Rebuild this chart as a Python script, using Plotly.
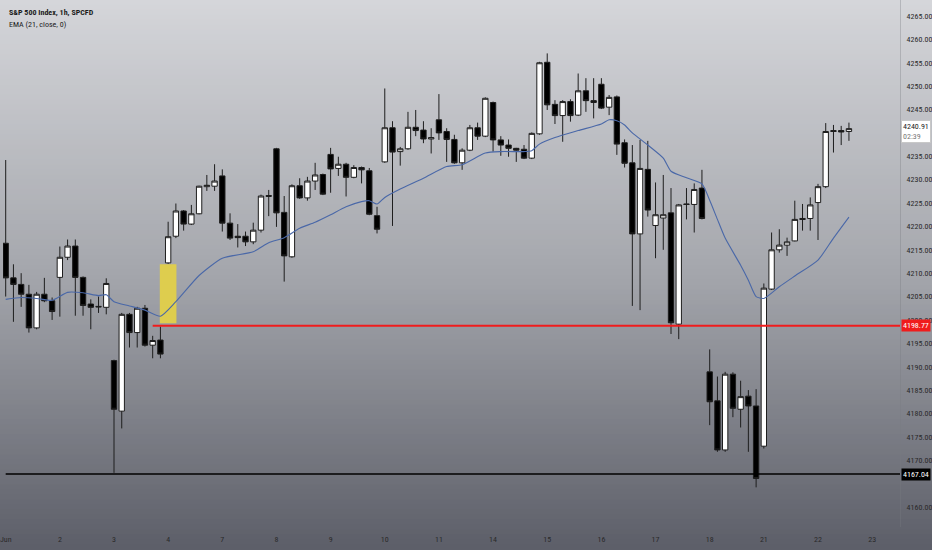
import plotly.graph_objects as go

# ---------------- data ----------------
day_labels = ["Jun", "2", "3", "4", "7", "8", "9", "10", "11", "14", "15", "16", "17", "18", "21", "22", "23"]
bars_per_day = 7

opens = [4216.4, 4209.0, 4207.6, 4205.5, 4198.3, 4205.5, 4204.1,
         4209.1, 4213.4, 4215.8, 4209.1, 4203.4, 4202.9, 4202.7,
         4191.3, 4180.5, 4201.2, 4197.3, 4202.5, 4194.6, 4195.7,
         4212.2, 4217.9, 4223.3, 4220.5, 4222.7, 4228.5, 4228.6,
         4230.8, 4220.7, 4217.9, 4217.9, 4216.7, 4219.2, 4226.4,
         4236.6, 4223.0, 4213.5, 4228.7, 4226.1, 4229.7, 4231.1,
         4235.4, 4232.4, 4233.3, 4230.5, 4232.6, 4231.9, 4222.3,
         4233.8, 4241.1, 4236.0, 4236.6, 4241.2, 4240.6, 4238.7,
         4242.8, 4240.3, 4238.6, 4233.6, 4236.3, 4241.1, 4239.3,
         4246.5, 4238.5, 4237.4, 4236.7, 4236.5, 4234.6, 4239.8,
         4255.1, 4246.1, 4243.7, 4246.7, 4243.8, 4249.0, 4246.9,
         4250.4, 4245.5, 4247.7, 4237.9, 4233.6, 4218.4, 4232.2,
         4220.2, 4221.8, 4222.9, 4199.1, 4224.8, 4224.7, 4228.2,
         4188.9, 4182.7, 4172.2, 4188.4, 4180.9, 4183.7, 4181.6,
         4173.0, 4206.6, 4215.0, 4216.0, 4216.9, 4221.7, 4221.7,
         4225.1, 4228.5, 4240.5, 4240.5, 4240.3]
highs = [4234.2, 4211.9, 4210.0, 4207.5, 4206.0, 4209.0, 4204.8,
         4215.7, 4217.2, 4217.2, 4209.3, 4204.4, 4205.0, 4208.9,
         4191.5, 4201.5, 4201.5, 4202.8, 4203.2, 4196.6, 4198.6,
         4221.0, 4224.9, 4223.5, 4224.6, 4228.7, 4231.0, 4233.3,
         4232.2, 4222.8, 4220.5, 4218.9, 4220.8, 4226.8, 4227.8,
         4236.8, 4226.5, 4229.0, 4230.3, 4230.6, 4233.6, 4231.3,
         4236.8, 4234.9, 4233.6, 4233.1, 4232.8, 4232.5, 4224.2,
         4249.5, 4242.5, 4237.0, 4244.5, 4244.9, 4242.5, 4241.0,
         4248.3, 4241.0, 4239.6, 4236.7, 4241.7, 4242.2, 4247.6,
         4246.7, 4239.3, 4238.6, 4236.8, 4237.4, 4240.1, 4255.2,
         4257.0, 4247.0, 4247.0, 4247.2, 4252.7, 4251.7, 4251.7,
         4251.7, 4248.1, 4248.0, 4238.6, 4237.4, 4238.5, 4238.3,
         4229.4, 4231.0, 4228.2, 4224.8, 4228.2, 4229.2, 4232.1,
         4193.7, 4187.9, 4188.9, 4188.8, 4187.0, 4185.0, 4185.2,
         4207.8, 4218.7, 4219.4, 4217.6, 4225.5, 4224.8, 4226.2,
         4229.1, 4242.1, 4241.7, 4241.5, 4242.2]
lows = [4205.0, 4199.6, 4202.8, 4197.3, 4198.0, 4203.8, 4200.0,
        4200.7, 4212.8, 4200.9, 4200.9, 4198.0, 4201.5, 4201.2,
        4167.3, 4176.8, 4194.1, 4194.1, 4194.3, 4191.8, 4191.8,
        4212.0, 4217.5, 4219.1, 4220.3, 4222.6, 4227.6, 4227.6,
        4218.9, 4217.1, 4215.5, 4215.8, 4216.2, 4218.7, 4222.2,
        4219.9, 4208.2, 4213.3, 4225.9, 4225.5, 4227.8, 4226.7,
        4227.2, 4230.8, 4226.4, 4230.3, 4229.2, 4222.4, 4218.5,
        4233.6, 4220.1, 4233.0, 4236.4, 4239.3, 4237.8, 4235.6,
        4238.5, 4233.8, 4233.4, 4232.1, 4236.1, 4238.5, 4239.1,
        4236.0, 4235.1, 4234.9, 4233.8, 4234.4, 4234.4, 4239.6,
        4244.9, 4241.9, 4238.1, 4242.4, 4243.6, 4244.5, 4243.1,
        4245.1, 4243.8, 4235.3, 4232.6, 4203.0, 4202.1, 4222.1,
        4213.2, 4215.0, 4197.0, 4195.9, 4221.5, 4218.7, 4221.5,
        4177.5, 4171.8, 4171.8, 4179.2, 4177.0, 4171.8, 4164.2,
        4172.5, 4206.4, 4214.4, 4213.7, 4216.8, 4219.1, 4219.1,
        4217.1, 4228.2, 4235.8, 4237.4, 4238.3]
closes = [4209.0, 4207.6, 4205.5, 4198.3, 4205.5, 4204.1, 4201.8,
          4213.4, 4215.8, 4209.1, 4203.1, 4202.7, 4202.8, 4207.8,
          4180.9, 4201.2, 4197.3, 4202.5, 4194.6, 4195.6, 4192.7,
          4217.8, 4223.3, 4220.5, 4222.7, 4228.6, 4228.8, 4229.7,
          4220.7, 4217.5, 4217.6, 4216.7, 4219.2, 4226.5, 4226.6,
          4222.9, 4213.7, 4228.7, 4226.1, 4229.7, 4231.0, 4226.9,
          4232.3, 4233.3, 4230.5, 4232.6, 4232.1, 4222.6, 4219.4,
          4241.1, 4235.9, 4236.6, 4241.2, 4240.5, 4238.7, 4239.0,
          4240.0, 4238.6, 4233.6, 4236.3, 4241.1, 4239.3, 4247.4,
          4238.5, 4237.4, 4236.7, 4236.3, 4234.6, 4239.9, 4255.0,
          4246.0, 4243.7, 4246.7, 4243.7, 4249.0, 4246.9, 4246.5,
          4245.3, 4247.6, 4237.6, 4233.5, 4218.4, 4232.4, 4223.5,
          4222.5, 4222.5, 4199.4, 4224.6, 4224.7, 4227.9, 4221.7,
          4182.5, 4172.2, 4188.4, 4181.1, 4183.6, 4181.6, 4166.1,
          4206.8, 4215.0, 4216.0, 4216.7, 4221.5, 4221.5, 4224.6,
          4228.5, 4240.3, 4240.3, 4240.2, 4240.91]

# EMA(21) values at selected bars
ema_bars = [0, 2, 4, 6, 8, 10, 12, 13, 14, 16, 18, 20, 22, 25, 28, 32, 34, 36, 38, 40,
            42, 44, 46, 47, 48, 49, 51, 54, 57, 59, 62, 64, 67, 68, 69, 71, 74, 77, 78,
            79, 80, 81, 83, 85, 86, 88, 90, 91, 92, 93, 95, 96, 97, 98, 100, 102, 105,
            107, 109]
ema_vals = [4204.4, 4204.8, 4204.6, 4204.2, 4205.9, 4205.8, 4205.2, 4205.4, 4203.9,
            4203.0, 4202.1, 4200.8, 4203.9, 4209.5, 4213.2, 4214.6, 4216.5, 4217.6,
            4219.6, 4220.9, 4222.5, 4224.2, 4225.3, 4225.5, 4224.8, 4226.2, 4228.0,
            4230.3, 4232.8, 4233.2, 4235.7, 4236.0, 4236.0, 4236.2, 4237.6, 4239.0,
            4240.5, 4241.9, 4242.8, 4242.6, 4241.7, 4240.0, 4237.4, 4234.6, 4231.8,
            4230.4, 4229.1, 4225.6, 4221.5, 4217.5, 4211.7, 4208.5, 4205.0, 4204.6,
            4207.1, 4209.4, 4212.8, 4217.5, 4222.0]

price_ticks = [4160, 4170, 4175, 4180, 4185, 4190, 4195, 4200, 4205, 4210, 4215,
               4220, 4225, 4230, 4235, 4245, 4250, 4255, 4260, 4265]

red_level = 4198.77
black_level = 4167.04
last_price = 4240.91
countdown = "02:39"
red_start_bar = 19
black_start_bar = 0
gap_box_bars = [19.92, 22.07]
gap_box_prices = [4199.3, 4211.9]

title_text = "S&P 500 Index, 1h, SPCFD"
ema_text = "EMA (21, close, 0)"

# ---------------- figure ----------------
W, H = 932, 550
PLOT_R = 32
PLOT_B = 23
plot_h = H - PLOT_B

bars = list(range(len(opens)))
FONT = "Liberation Sans Narrow, Roboto Condensed, DejaVu Sans Condensed, Arial Narrow, sans-serif"

fig = go.Figure()

fig.add_trace(go.Candlestick(
    x=bars, open=opens, high=highs, low=lows, close=closes,
    increasing=dict(fillcolor="#ffffff", line=dict(color="#1e1e1e", width=1)),
    decreasing=dict(fillcolor="#000000", line=dict(color="#1e1e1e", width=1)),
    whiskerwidth=0, showlegend=False, hoverinfo="skip",
))

fig.add_trace(go.Scatter(
    x=ema_bars, y=ema_vals, mode="lines",
    line=dict(color="#4a68a8", width=1.1, shape="spline", smoothing=0.6),
    showlegend=False, hoverinfo="skip",
))

# background gradient (vertical), drawn as thin paper bands
stops = [(0, (213, 214, 218)), (275, (164, 166, 172)), (550, (92, 94, 104))]


def col_at(p):
    for (p0, c0), (p1, c1) in zip(stops[:-1], stops[1:]):
        if p0 <= p <= p1:
            t = (p - p0) / (p1 - p0)
            return "rgb(%d,%d,%d)" % tuple(round(a + (b - a) * t) for a, b in zip(c0, c1))
    return "rgb(%d,%d,%d)" % stops[-1][1]


shapes = []
step = 5
for p in range(0, H, step):
    y_top = 1 - p / plot_h
    y_bot = 1 - (p + step) / plot_h
    shapes.append(dict(type="rect", xref="paper", yref="paper",
                       x0=-0.01, x1=W / (W - PLOT_R) + 0.01, y0=y_bot - 0.001, y1=y_top + 0.001,
                       fillcolor=col_at(p + step / 2), line=dict(width=0), layer="below"))

x_min = -0.348
x_max = 115.6
y_min = 4155.72
y_max = 4268.42

# yellow gap box
shapes.append(dict(type="rect", xref="x", yref="y",
                   x0=gap_box_bars[0], x1=gap_box_bars[1], y0=gap_box_prices[0], y1=gap_box_prices[1],
                   fillcolor="rgb(222,205,78)", line=dict(width=0), layer="below"))
# horizontal levels
shapes.append(dict(type="line", xref="x", yref="y", x0=red_start_bar, x1=x_max,
                   y0=red_level, y1=red_level, line=dict(color="#f01c1c", width=2)))
shapes.append(dict(type="line", xref="x", yref="y", x0=black_start_bar, x1=x_max,
                   y0=black_level, y1=black_level, line=dict(color="#000000", width=1.6)))

annotations = [
    dict(xref="paper", yref="paper", x=0, y=1, xanchor="left", yanchor="middle",
         xshift=4, yshift=-12, text="<b>" + title_text + "</b>", showarrow=False,
         font=dict(family=FONT, size=8, color="#1c1c1c")),
    dict(xref="paper", yref="paper", x=0, y=1, xanchor="left", yanchor="middle",
         xshift=4, yshift=-24, text=ema_text, showarrow=False,
         font=dict(family=FONT, size=8, color="#1c1c1c")),
    dict(xref="paper", yref="y", x=1, y=red_level, xanchor="left", yanchor="middle",
         xshift=1, text="%.2f" % red_level, showarrow=False, bgcolor="#f01c1c",
         borderpad=1, font=dict(family=FONT, size=8, color="#ffffff")),
    dict(xref="paper", yref="y", x=1, y=black_level, xanchor="left", yanchor="middle",
         xshift=1, text="%.2f" % black_level, showarrow=False, bgcolor="#000000",
         borderpad=1, font=dict(family=FONT, size=8, color="#ffffff")),
    dict(xref="paper", yref="y", x=1, y=last_price, xanchor="left", yanchor="middle",
         xshift=1, yshift=-3,
         text="%.2f<br><span style='color:#777'>%s</span>" % (last_price, countdown),
         showarrow=False, bgcolor="#ffffff", bordercolor="#c8c8c8", borderwidth=1,
         borderpad=1, align="left", font=dict(family=FONT, size=8, color="#1c1c1c")),
]

tickvals_x = [i * bars_per_day for i in range(len(day_labels))]

fig.update_layout(
    width=W, height=H,
    margin=dict(l=0, r=PLOT_R, t=0, b=PLOT_B),
    paper_bgcolor="rgba(0,0,0,0)", plot_bgcolor="rgba(0,0,0,0)",
    shapes=shapes, annotations=annotations,
    boxgap=0.31, boxgroupgap=0,
    showlegend=False,
    xaxis=dict(range=[x_min, x_max], rangeslider=dict(visible=False),
               tickvals=tickvals_x, ticktext=day_labels, showgrid=False, zeroline=False,
               ticks="", ticklabelstandoff=6, ticklabeloverflow="allow",
               tickfont=dict(family=FONT, size=8, color="#2a2a2a")),
    yaxis=dict(range=[y_min, y_max], side="right", tickvals=price_ticks, tickformat=".2f",
               showgrid=False, zeroline=False, ticks="", ticklabelstandoff=4,
               ticklabeloverflow="allow",
               showline=True, linecolor="rgba(120,122,130,0.35)", linewidth=1,
               tickfont=dict(family=FONT, size=8, color="#2a2a2a")),
)

fig.write_html(
    "out.html",
    config={"displayModeBar": False, "staticPlot": True},
    post_script="document.body.style.margin='0px';document.body.style.padding='0px';"
                "document.body.style.overflow='hidden';",
)
